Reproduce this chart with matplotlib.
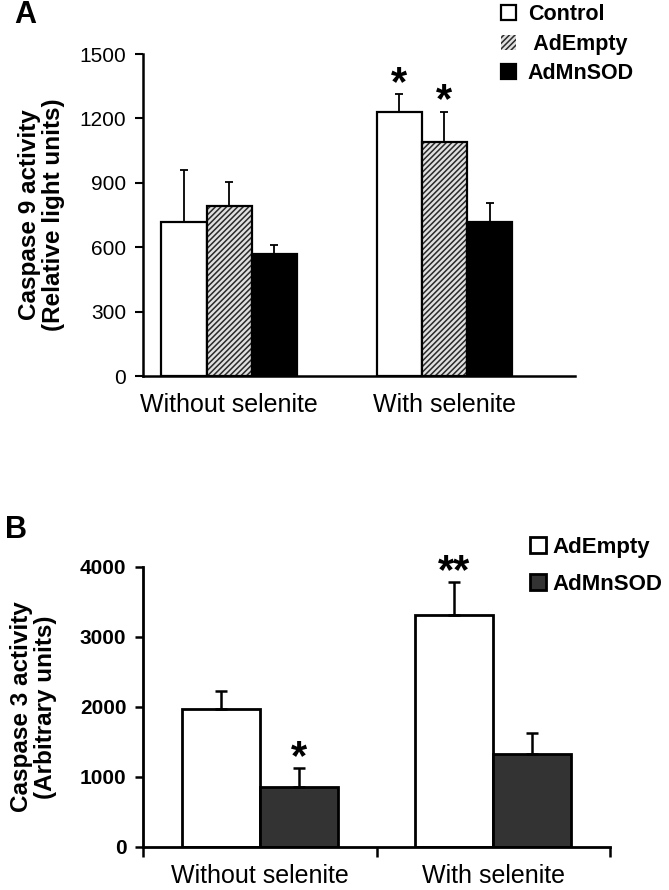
import matplotlib
matplotlib.use("Agg")
import matplotlib.pyplot as plt
import numpy as np

plt.rcParams['font.family'] = ['Liberation Sans', 'DejaVu Sans']
plt.rcParams['hatch.linewidth'] = 1.1

# ---------------- data ----------------
groups = ["Without selenite", "With selenite"]

# Panel A: Caspase 9 activity (relative light units)
a_series = ["Control", " AdEmpty", "AdMnSOD"]
a_control = [716, 1232]
a_control_err = [243, 81]
a_adempty = [790, 1090]
a_adempty_err = [113, 142]
a_admnsod = [567, 719]
a_admnsod_err = [42, 88]
a_yticks = [0, 300, 600, 900, 1200, 1500]

# Panel B: Caspase 3 activity (arbitrary units)
b_series = ["AdEmpty", "AdMnSOD"]
b_adempty = [1971, 3311]
b_adempty_err = [257, 466]
b_admnsod = [855, 1325]
b_admnsod_err = [271, 295]
b_yticks = [0, 1000, 2000, 3000, 4000]

xlab_size = 18

W, H = 669, 890
fig = plt.figure(figsize=(W / 100, H / 100), dpi=100)

# ---------------- Panel A ----------------
axA = fig.add_axes([143 / W, 1 - 376 / H, 432 / W, 322 / H])
x = np.arange(len(groups))
w = 0.21
lwA = 1.6

bC = axA.bar(x - w, a_control, w, color='white', edgecolor='black', linewidth=lwA, zorder=2)
bE = axA.bar(x, a_adempty, w, color='#e0e0e0', edgecolor='#2a2a2a', linewidth=0,
             hatch='//////', zorder=2)
axA.bar(x, a_adempty, w, color='none', edgecolor='black', linewidth=lwA, zorder=3)
bM = axA.bar(x + w, a_admnsod, w, color='black', edgecolor='black', linewidth=lwA, zorder=2)

for xs, vals, errs in [(x - w, a_control, a_control_err), (x, a_adempty, a_adempty_err),
                       (x + w, a_admnsod, a_admnsod_err)]:
    axA.errorbar(xs, vals, yerr=[np.zeros(len(errs)), errs], fmt='none', ecolor='black',
                 elinewidth=1.3, capsize=3, capthick=1.3, zorder=4)

# significance stars
for xs, top in [(x[1] - w, a_control[1] + a_control_err[1]),
                (x[1], a_adempty[1] + a_adempty_err[1])]:
    axA.annotate('*', (xs, top), xytext=(0, -7), textcoords='offset points',
                 ha='center', va='bottom', fontsize=30, fontweight='bold')

axA.set_xlim(-0.40, 1.606)
axA.set_ylim(0, 1500)
axA.set_yticks(a_yticks)
axA.set_xticks(x)
axA.set_xticklabels(groups, fontsize=xlab_size)
axA.tick_params(axis='x', length=0, pad=12)
axA.tick_params(axis='y', direction='out', length=6, width=1.5, labelsize=15, pad=6)
for s in ['top', 'right']:
    axA.spines[s].set_visible(False)
for s in ['left', 'bottom']:
    axA.spines[s].set_linewidth(1.8)
axA.set_ylabel("Caspase 9 activity\n(Relative light units)", fontsize=17.5,
               fontweight='bold', linespacing=1.05)
axA.yaxis.set_label_coords((65 - 143) / 432, 0.5)

fig.legend([bC, bE, bM], a_series, loc='upper left', bbox_to_anchor=(501 / W, 1 - 4 / H),
           frameon=False, prop={'weight': 'bold', 'size': 15.5},
           handlelength=0.7, handleheight=0.7, handletextpad=0.55, labelspacing=0.4,
           borderpad=0, borderaxespad=0)

fig.text(14 / W, 1 - 23 / H, "A", fontsize=22, fontweight='bold', ha='left', va='baseline')

# ---------------- Panel B ----------------
axB = fig.add_axes([143 / W, 1 - 847 / H, 467 / W, 280.3 / H])
wb = 0.333
lwB = 2.0
b1 = axB.bar(x - wb / 2, b_adempty, wb, color='white', edgecolor='black', linewidth=lwB, zorder=2)
b2 = axB.bar(x + wb / 2, b_admnsod, wb, color='#333333', edgecolor='black', linewidth=lwB, zorder=2)
for xs, vals, errs in [(x - wb / 2, b_adempty, b_adempty_err), (x + wb / 2, b_admnsod, b_admnsod_err)]:
    axB.errorbar(xs, vals, yerr=[np.zeros(len(errs)), errs], fmt='none', ecolor='black',
                 elinewidth=1.8, capsize=4.3, capthick=1.8, zorder=4)

axB.annotate('*', (x[0] + wb / 2, b_admnsod[0] + b_admnsod_err[0]), xytext=(0, -7),
             textcoords='offset points', ha='center', va='bottom', fontsize=30, fontweight='bold')
axB.annotate('**', (x[1] - wb / 2, b_adempty[1] + b_adempty_err[1]), xytext=(0, -7),
             textcoords='offset points', ha='center', va='bottom', fontsize=30, fontweight='bold')

axB.set_xlim(-0.5, 1.5)
axB.set_ylim(0, 4000)
axB.set_yticks(b_yticks)
axB.set_xticks([-0.5, 0.5, 1.5])
axB.set_xticklabels([])
axB.set_xticks(x, minor=True)
axB.set_xticklabels(groups, minor=True, fontsize=xlab_size)
axB.tick_params(axis='x', which='major', direction='out', length=7, width=1.8)
axB.tick_params(axis='x', which='minor', length=0, pad=12)
axB.tick_params(axis='y', direction='out', length=6, width=1.8, labelsize=15, pad=6)
for lab in axB.get_yticklabels():
    lab.set_fontweight('bold')
for s in ['top', 'right']:
    axB.spines[s].set_visible(False)
for s in ['left', 'bottom']:
    axB.spines[s].set_linewidth(2.0)
axB.set_ylabel("Caspase 3 activity\n(Arbitrary units)", fontsize=17.5,
               fontweight='bold', linespacing=1.05)
axB.yaxis.set_label_coords((57 - 143) / 467, 0.5)

fig.legend([b1, b2], b_series, loc='upper left', bbox_to_anchor=(530 / W, 1 - 537 / H),
           frameon=False, prop={'weight': 'bold', 'size': 16},
           handlelength=0.7, handleheight=0.75, handletextpad=0.3, labelspacing=0.7,
           borderpad=0, borderaxespad=0)

fig.text(5 / W, 1 - 538 / H, "B", fontsize=22, fontweight='bold', ha='left', va='baseline')

fig.savefig("out.png", dpi=100)
